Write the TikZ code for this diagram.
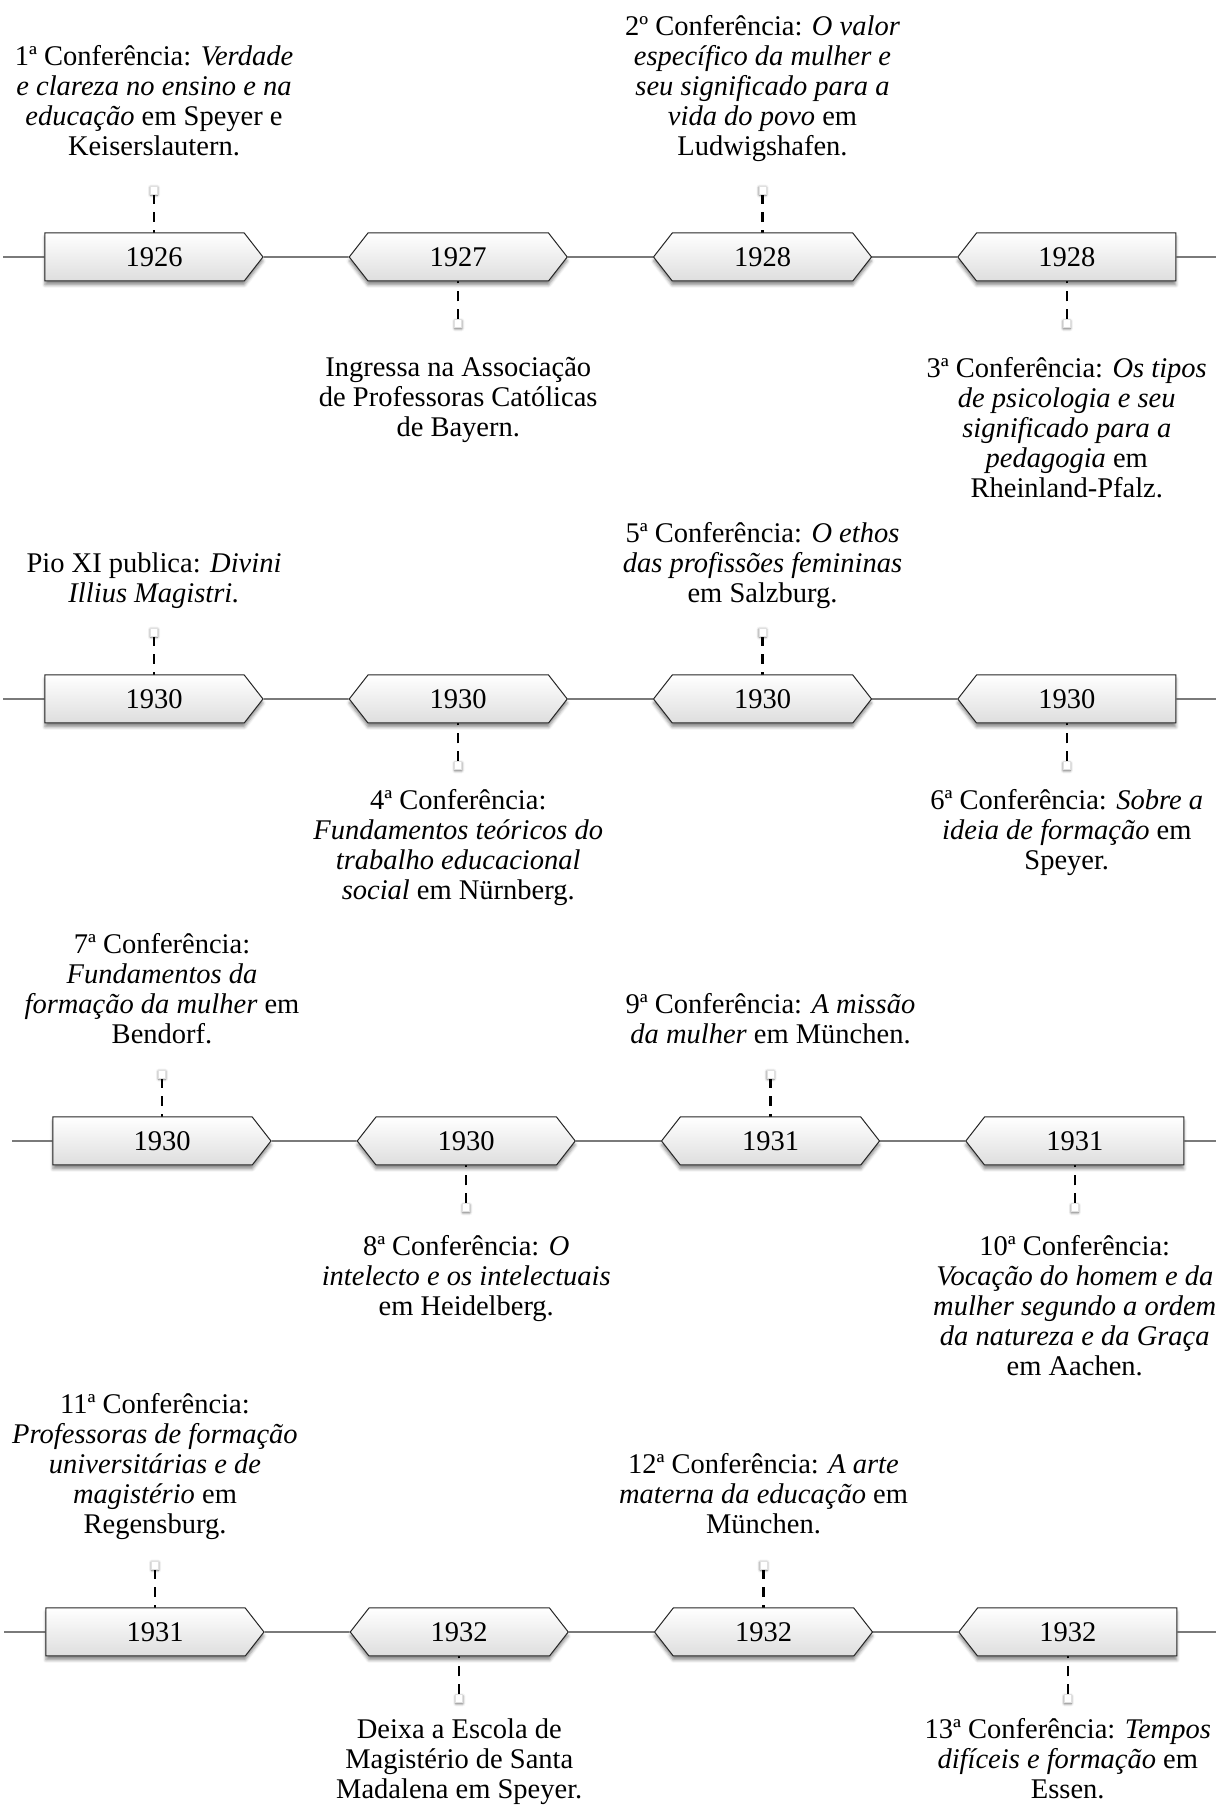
\documentclass[tikz,border=0pt]{standalone}
\usepackage{fontspec}
\setmainfont{Liberation Serif}
\usetikzlibrary{positioning,shapes.symbols,shadows.blur,backgrounds}

\begin{document}
\begin{tikzpicture}[
x=1pt, y=1pt,
box/.style={
	signal, draw=black!85, line width=1pt,
	signal pointer angle=104,
	minimum height=48pt, minimum width=218pt,
	inner sep=0pt,
	top color=white, bottom color=black!13,
	blur shadow={shadow xshift=0pt, shadow yshift=-4pt,
		shadow blur radius=3pt, shadow opacity=45},
	font=\fontsize{28.5}{30}\selectfont
},
headbox/.style={box, signal to=east,
	execute at begin node={\hspace*{18.8pt}}},
midbox/.style={box, signal to=east and west},
tailbox/.style={box, signal to=west,
	execute at end node={\hspace*{18.8pt}}},
pin/.style={
	rectangle, fill=white, draw=black!12, line width=.6pt,
	minimum width=7pt, minimum height=8pt, inner sep=0pt,
	blur shadow={shadow xshift=0pt, shadow yshift=-1pt,
		shadow blur radius=2.5pt, shadow opacity=60}
},
headpin/.style={pin, xshift=9.4pt},
tailpin/.style={pin, xshift=-9.4pt},
link/.style={line width=2.4pt, dash pattern=on 10pt off 8pt},
note/.style={
	align=center, inner sep=0pt,
	font=\fontsize{28.5}{30}\selectfont,
	execute at begin node=\strut, execute at end node=\strut
},
line width=1.2pt
]
\useasboundingbox (0,0) rectangle (1216,1816);

% row 1
\node[headbox] (a1) at (144.6,1559) {1926};
\node[midbox, right=85pt of a1] (a2) {1927};
\node[midbox, right=85pt of a2] (a3) {1928};
\node[tailbox, right=85pt of a3] (a4) {1928};
\coordinate (a0) at (3,1559);
\coordinate (a5) at (1216,1559);
\node[headpin, above=38pt of a1] (pa1) {};
\node[pin, below=38pt of a2] (pa2) {};
\node[pin, above=38pt of a3] (pa3) {};
\node[tailpin, below=38pt of a4] (pa4) {};
\node[note, above=21pt of pa1] (ta1) {1ª Conferência: \textit{Verdade}\\
	\textit{e clareza no ensino e na}\\ \textit{educação} em Speyer e\\ Keiserslautern.};
\node[note, below=29pt of pa2] (ta2) {Ingressa na Associação\\
	de Professoras Católicas\\ de Bayern.};
\node[note, above=21pt of pa3] (ta3) {2º Conferência: \textit{O valor}\\
	\textit{específico da mulher e}\\ \textit{seu significado para a}\\
	\textit{vida do povo} em\\ Ludwigshafen.};
\node[note, below=29pt of pa4] (ta4) {3ª Conferência: \textit{Os tipos}\\
	\textit{de psicologia e seu}\\ \textit{significado para a}\\
	\textit{pedagogia} em\\ Rheinland-Pfalz.};

% row 2
\node[headbox] (b1) at (144.6,1117) {1930};
\node[midbox, right=85pt of b1] (b2) {1930};
\node[midbox, right=85pt of b2] (b3) {1930};
\node[tailbox, right=85pt of b3] (b4) {1930};
\coordinate (b0) at (3,1117);
\coordinate (b5) at (1216,1117);
\node[headpin, above=38pt of b1] (pb1) {};
\node[pin, below=38pt of b2] (pb2) {};
\node[pin, above=38pt of b3] (pb3) {};
\node[tailpin, below=38pt of b4] (pb4) {};
\node[note, above=16pt of pb1] (tb1) {Pio XI publica: \textit{Divini}\\
	\textit{Illius Magistri.}};
\node[note, below=18.5pt of pb2] (tb2) {4ª Conferência:\\
	\textit{Fundamentos teóricos do}\\ \textit{trabalho educacional}\\
	\textit{social} em Nürnberg.};
\node[note, above=16pt of pb3] (tb3) {5ª Conferência: \textit{O ethos}\\
	\textit{das profissões femininas}\\ em Salzburg.};
\node[note, below=18.5pt of pb4] (tb4) {6ª Conferência: \textit{Sobre a}\\
	\textit{ideia de formação} em\\ Speyer.};

% row 3
\node[headbox] (c1) at (152.6,675) {1930};
\node[midbox, right=85pt of c1] (c2) {1930};
\node[midbox, right=85pt of c2] (c3) {1931};
\node[tailbox, right=85pt of c3] (c4) {1931};
\coordinate (c0) at (12,675);
\coordinate (c5) at (1216,675);
\node[headpin, above=38pt of c1] (pc1) {};
\node[pin, below=38pt of c2] (pc2) {};
\node[pin, above=38pt of c3] (pc3) {};
\node[tailpin, below=38pt of c4] (pc4) {};
\node[note, above=17pt of pc1] (tc1) {7ª Conferência:\\
	\textit{Fundamentos da}\\ \textit{formação da mulher} em\\ Bendorf.};
\node[note, below=23pt of pc2] (tc2) {8ª Conferência: \textit{O}\\
	\textit{intelecto e os intelectuais}\\ em Heidelberg.};
\node[note, above=17pt of pc3] (tc3) {9ª Conferência: \textit{A missão}\\
	\textit{da mulher} em München.};
\node[note, below=23pt of pc4] (tc4) {10ª Conferência:\\
	\textit{Vocação do homem e da}\\ \textit{mulher segundo a ordem}\\
	\textit{da natureza e da Graça}\\ em Aachen.};

% row 4
\node[headbox] (d1) at (145.6,184) {1931};
\node[midbox, right=85pt of d1] (d2) {1932};
\node[midbox, right=85pt of d2] (d3) {1932};
\node[tailbox, right=85pt of d3] (d4) {1932};
\coordinate (d0) at (4,184);
\coordinate (d5) at (1216,184);
\node[headpin, above=38pt of d1] (pd1) {};
\node[pin, below=38pt of d2] (pd2) {};
\node[pin, above=38pt of d3] (pd3) {};
\node[tailpin, below=38pt of d4] (pd4) {};
\node[note, above=18pt of pd1] (td1) {11ª Conferência:\\
	\textit{Professoras de formação}\\ \textit{universitárias e de}\\
	\textit{magistério} em\\ Regensburg.};
\node[note, below=15pt of pd2] (td2) {Deixa a Escola de\\
	Magistério de Santa\\ Madalena em Speyer.};
\node[note, above=18pt of pd3] (td3) {12ª Conferência: \textit{A arte}\\
	\textit{materna da educação} em\\ München.};
\node[note, below=15pt of pd4] (td4) {13ª Conferência: \textit{Tempos}\\
	\textit{difíceis e formação} em\\ Essen.};

\foreach \r in {a,b,c,d}
{
	\foreach \i in {0,...,4}
	{
		\pgfmathsetmacro\next{int(\i + 1)}
		\draw[black!80] (\r\i) -- (\r\next);
	}
}
\begin{scope}[on background layer]
\foreach \r in {a,b,c,d}
	\foreach \i in {1,...,4}
		\draw[link] (p\r\i) -- (p\r\i |- \r\i.center);
\end{scope}
\end{tikzpicture}
\end{document}
